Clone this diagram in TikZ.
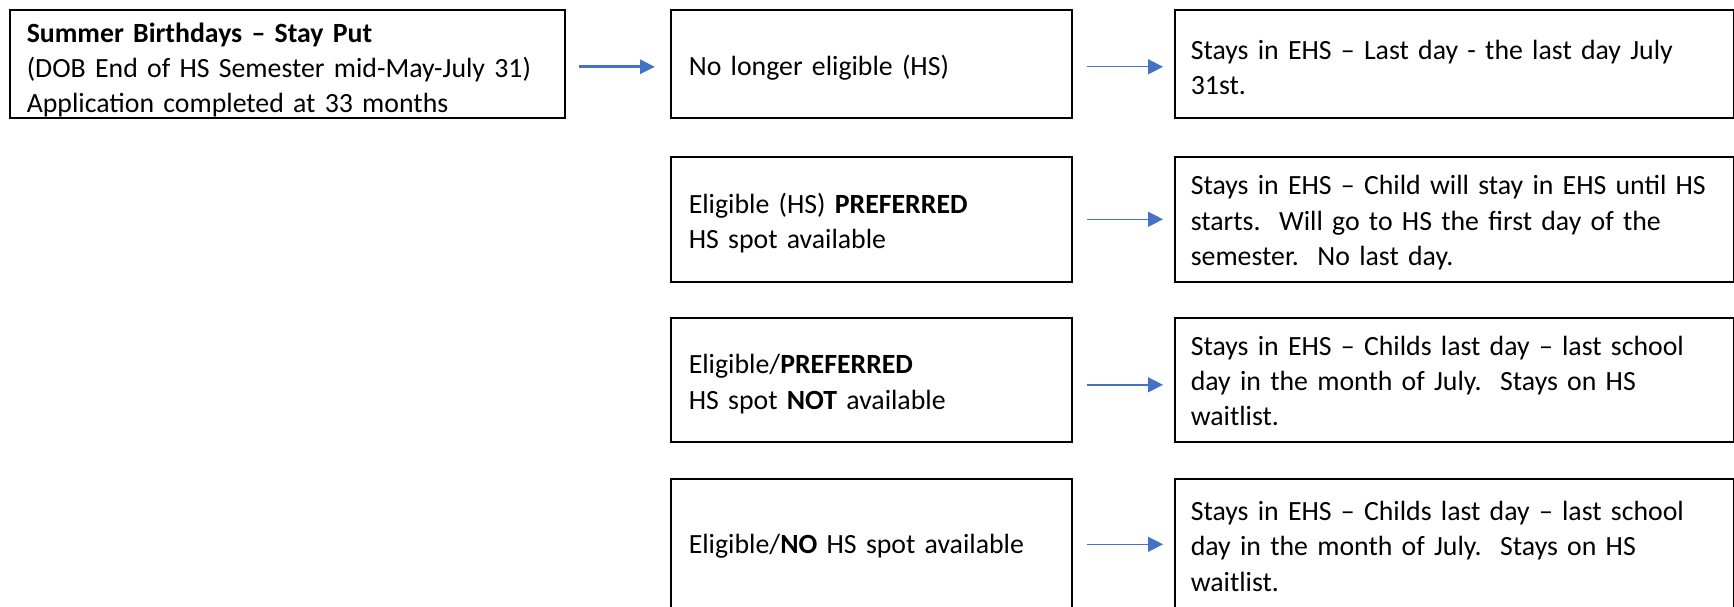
\documentclass[tikz,border=0pt]{standalone}
\usepackage{fontspec}
\setmainfont{Carlito}
\usetikzlibrary{arrows.meta}
\definecolor{arrowblue}{RGB}{68,114,196}
\newcommand{\dn}[1]{\rule{0pt}{\dimexpr 20pt+2\dimexpr #1\relax\relax}}
\begin{document}
\begin{tikzpicture}[x=1pt,y=-1pt,
  box/.style n args={3}{draw=black, line width=1.6pt, anchor=north west,
    minimum height=#2, text width=#1, inner xsep=#3, inner ysep=0pt,
    align=left, font=\fontsize{27.8}{35.2}\selectfont},
  arrthick/.style={draw=arrowblue, line width=3pt,
    -{Triangle[length=15pt,width=14pt]}, shorten <=13pt, shorten >=15pt},
  arrthin/.style={draw=arrowblue, line width=1.4pt,
    -{Triangle[length=15pt,width=15pt]}, shorten <=14pt, shorten >=11pt}]
\useasboundingbox (0,0) rectangle (1734,607);
\node[box={521pt}{108pt}{17pt}] (A) at (9,9)
  {\dn{6pt}\textbf{Summer Birthdays – Stay Put}\\(DOB End of HS Semester mid-May-July 31)\\Application completed at 33 months};
\node[box={365pt}{108pt}{18pt}] (B1) at (670,9) {\dn{4pt}No longer eligible (HS)};
\node[box={527pt}{108pt}{16pt}] (C1) at (1174,9) {\dn{3pt}Stays in EHS – Last day - the last day July\\31st.};
\node[box={365pt}{125pt}{18pt}] (B2) at (670,156) {\dn{4pt}Eligible (HS) \textbf{PREFERRED}\\HS spot available};
\node[box={527pt}{125pt}{16pt}] (C2) at (1174,156) {\dn{3pt}Stays in EHS – Child will stay in EHS until HS\\starts.\ \ Will go to HS the first day of the\\semester.\ \ No last day.};
\node[box={365pt}{124pt}{18pt}] (B3) at (670,317) {\dn{4pt}Eligible/\textbf{PREFERRED}\\HS spot \textbf{NOT} available};
\node[box={527pt}{124pt}{16pt}] (C3) at (1174,317) {\dn{1pt}Stays in EHS – Childs last day – last school\\day in the month of July.\ \ Stays on HS\\waitlist.};
\node[box={365pt}{135pt}{18pt}] (B4) at (670,478) {\dn{0pt}Eligible/\textbf{NO} HS spot available};
\node[box={527pt}{135pt}{16pt}] (C4) at (1174,478) {\dn{-2pt}Stays in EHS – Childs last day – last school\\day in the month of July.\ \ Stays on HS\\waitlist.};
\draw[arrthick] ([yshift=-3pt]A.east) -- ([yshift=-3pt]B1.west);
\draw[arrthin] ([yshift=-3pt]B1.east) -- ([yshift=-3pt]C1.west);
\draw[arrthin] (B2.east) -- (C2.west);
\draw[arrthin] ([yshift=-5pt]B3.east) -- ([yshift=-5pt]C3.west);
\draw[arrthin] ([yshift=2pt]B4.east) -- ([yshift=2pt]C4.west);
\end{tikzpicture}
\end{document}
